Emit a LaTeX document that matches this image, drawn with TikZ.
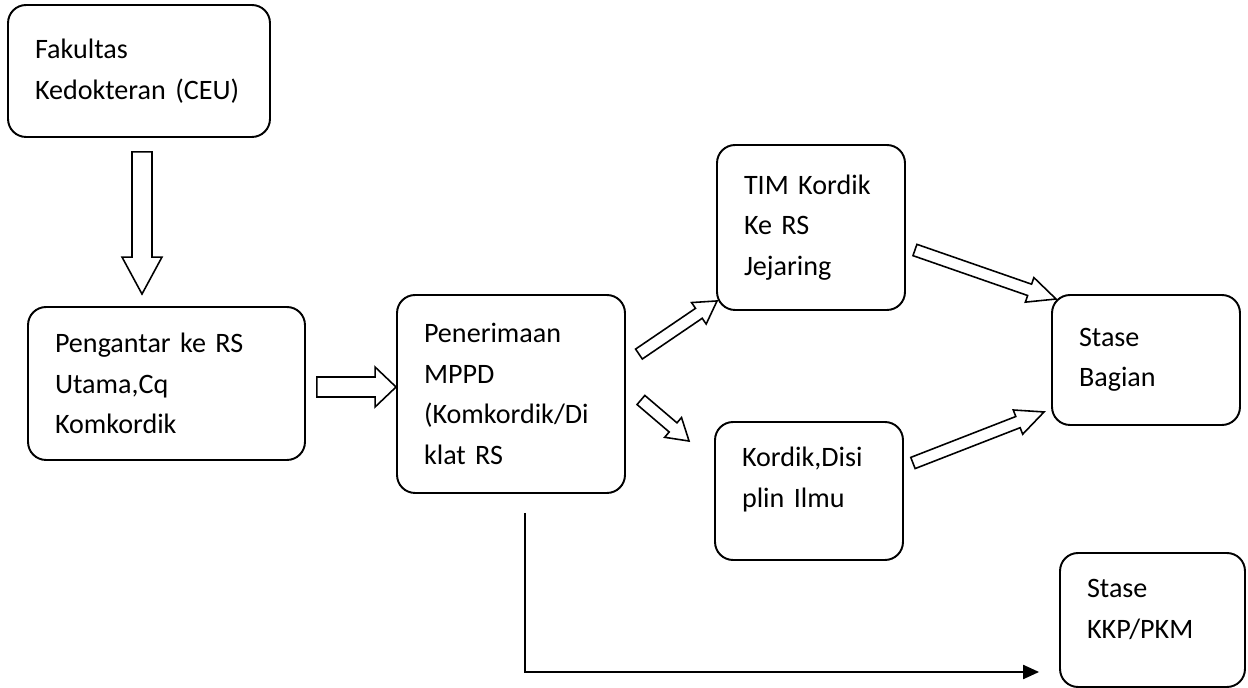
\documentclass[tikz,border=0pt]{standalone}
\usepackage{fontspec}
\setmainfont{Carlito}
\usetikzlibrary{arrows.meta, calc, positioning}
\tikzset{>=stealth}
\tikzset{
  box/.style={draw, line width=1.1pt, rounded corners=0.36cm, align=left,
    inner xsep=0.54cm, inner ysep=0pt, font=\fontsize{16pt}{23pt}\selectfont},
  % hollow block arrow: shaft half width, head half width, head length
  hollow/.style n args={3}{draw, line width=0.9pt, to path={
      ($(\tikztostart)!#1!90:(\tikztotarget)$)
      -- ($(\tikztotarget)!#3!(\tikztostart)!#1!90:(\tikztotarget)$)
      -- ($(\tikztotarget)!#3!(\tikztostart)!#2!90:(\tikztotarget)$)
      -- (\tikztotarget)
      -- ($(\tikztotarget)!#3!(\tikztostart)!#2!-90:(\tikztotarget)$)
      -- ($(\tikztotarget)!#3!(\tikztostart)!#1!-90:(\tikztotarget)$)
      -- ($(\tikztostart)!#1!-90:(\tikztotarget)$)
      -- cycle}},
}
\begin{document}
\begin{tikzpicture}[x=0.02cm, y=-0.02cm]
    \useasboundingbox (0,0) rectangle (1248,688);

    \node[box, minimum width=5.24cm, minimum height=2.64cm, text width=4.16cm] (fak) at (139,71) {Fakultas\\Kedokteran (CEU)};
    \node[box, minimum width=5.54cm, minimum height=3.06cm, text width=4.46cm] (peng) at (166.5,383.5) {Pengantar ke RS\\Utama,Cq\\Komkordik};
    \node[box, minimum width=4.56cm, minimum height=3.96cm, text width=3.48cm] (mppd) at (511,394) {Penerimaan\\MPPD\\(Komkordik/Di\\klat RS};
    \node[box, minimum width=3.76cm, minimum height=3.3cm, text width=2.68cm] (tim) at (811,227.5) {TIM Kordik\\Ke RS\\Jejaring};
    \node[box, minimum width=3.76cm, minimum height=2.76cm, text width=2.68cm] (disi) at (809,491) {Kordik,Disi\\plin Ilmu\rule[-0.55cm]{0pt}{0pt}};
    \node[box, minimum width=3.76cm, minimum height=2.6cm, text width=2.68cm] (bag) at (1146,360) {Stase\\Bagian};
    \node[box, minimum width=3.7cm, minimum height=2.68cm, text width=2.62cm] (kkp) at (1152.5,620) {Stase\\KKP/PKM\rule[-0.45cm]{0pt}{0pt}};

    % ends of the block arrows
    \coordinate (a1s) at ([shift={(3,14)}]fak.south);
    \coordinate (a1e) at ([shift={(-24.5,-12)}]peng.north);
    \coordinate (a2s) at ([shift={(11,3.5)}]peng.east);
    \coordinate (a2e) at ([shift={(0,-7)}]mppd.west);
    \coordinate (a3s) at ([shift={(13,60)}]mppd.north east);
    \coordinate (a3e) at ([shift={(1,-10)}]tim.south west);
    \coordinate (a4s) at ([shift={(15,6)}]mppd.east);
    \coordinate (a4e) at ([shift={(-25,20)}]disi.north west);
    \coordinate (a5s) at ([shift={(9,22.5)}]tim.east);
    \coordinate (a5e) at ([shift={(5,5)}]bag.north west);
    \coordinate (a6s) at ([shift={(9,-28)}]disi.east);
    \coordinate (a6e) at ([shift={(-7,-14)}]bag.south west);

    \draw[hollow={0.2cm}{0.4cm}{0.74cm}] (a1s) to (a1e);
    \draw[hollow={0.2cm}{0.4cm}{0.42cm}] (a2s) to (a2e);
    \draw[hollow={0.12cm}{0.26cm}{0.44cm}] (a3s) to (a3e);
    \draw[hollow={0.12cm}{0.26cm}{0.42cm}] (a4s) to (a4e);
    \draw[hollow={0.12cm}{0.26cm}{0.56cm}] (a5s) to (a5e);
    \draw[hollow={0.12cm}{0.26cm}{0.56cm}] (a6s) to (a6e);

    \coordinate (ls) at ([shift={(14,19)}]mppd.south);
    \coordinate (le) at ([shift={(-20,52)}]kkp.west);
    \draw[line width=0.9pt, -{Triangle[length=9pt, width=8pt]}] (ls) |- (le);
\end{tikzpicture}
\end{document}
